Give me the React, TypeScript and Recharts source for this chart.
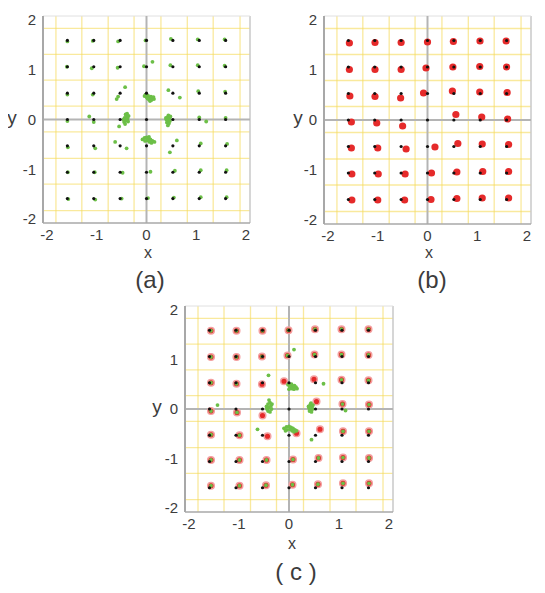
import React from 'react';
import { ScatterChart, Scatter, XAxis, YAxis, ReferenceLine } from 'recharts';

// ideal constellation levels (black dots sit on every pair)
const levels = [-1.59, -1.06, -0.53, 0, 0.53, 1.06, 1.59];
// yellow grid, half way between the levels
const gridX = [-1.82, -1.3, -0.77, -0.25, 0.29, 0.82, 1.34, 1.88];
const gridY = [-1.83, -1.3, -0.78, -0.25, 0.27, 0.79, 1.31, 1.83];
const xTicks = [-2, -1, 0, 1, 2];
const yTicks = [-2, -1, 0, 1, 2];
const DOMAIN: [number, number] = [-2.08, 2.08];

type Pt = [number, number];

// (a) received points, green
const greenA: Pt[] = [
  [-1.59, 1.57], [-1.08, 1.58], [-0.57, 1.57], [-0.02, 1.59], [0.49, 1.62], [1.03, 1.61], [1.57, 1.61],
  [-1.6, 1.06], [-1.1, 1.03], [-0.58, 1.04], [-0.05, 1.07], [0.48, 1.09], [1.03, 1.09], [1.57, 1.08],
  [-1.59, 0.5], [-1.08, 0.5], [1.04, 0.57], [1.58, 0.56],
  [-1.59, -0.03], [-1.06, -0.05], [1.06, 0.04], [1.59, 0.03],
  [-1.58, -0.56], [-1.03, -0.58], [1.09, -0.48], [1.62, -0.49],
  [-1.58, -1.06], [-1.04, -1.06], [-0.48, -1.07], [0.08, -1.05], [0.57, -1.03], [1.09, -1.02], [1.61, -1.02],
  [-1.57, -1.6], [-1.03, -1.61], [-0.5, -1.59], [0.03, -1.58], [0.55, -1.57], [1.09, -1.56], [1.61, -1.56],
  // scattered
  [-0.43, 0.65], [-0.57, 0.46], [-0.6, 0.41], [0.44, 0.59], [0.67, 0.44], [-1.15, 0.06], [-0.55, -0.14],
  [-0.63, -0.45], [-0.4, -0.58], [0.61, -0.42], [0.47, -0.66], [0.12, 1.16], [1.2, -0.04],
  // blob near (0, 0.53)
  [-0.04, 0.47], [0.0, 0.45], [0.03, 0.48], [0.06, 0.44], [0.09, 0.46], [0.12, 0.43], [0.15, 0.41],
  [0.05, 0.4], [0.1, 0.39], [0.02, 0.42], [0.14, 0.45], [0.07, 0.37], [-0.02, 0.5],
  // blob near (-0.53, 0)
  [-0.42, 0.1], [-0.4, 0.06], [-0.44, 0.03], [-0.38, 0.02], [-0.41, -0.02], [-0.45, -0.05],
  [-0.37, -0.04], [-0.43, -0.09], [-0.39, 0.12], [-0.36, 0.07], [-0.46, 0.0],
  // blob near (0.53, 0)
  [0.44, 0.08], [0.42, 0.04], [0.46, 0.03], [0.4, 0.0], [0.44, -0.02], [0.48, 0.06],
  [0.41, -0.06], [0.45, -0.08], [0.43, -0.12], [0.47, -0.03], [0.39, 0.03],
  // blob near (0, -0.53)
  [-0.08, -0.4], [-0.04, -0.37], [0.0, -0.36], [0.04, -0.38], [0.08, -0.4], [0.12, -0.43],
  [0.16, -0.45], [0.02, -0.42], [-0.03, -0.43], [0.06, -0.45], [0.1, -0.47], [0.05, -0.35],
];

// (b) received points, red
const redB: Pt[] = [
  [-1.57, 1.54], [-1.055, 1.55], [-0.53, 1.55], [0.0, 1.56], [0.52, 1.57], [1.055, 1.58], [1.58, 1.58],
  [-1.57, 1.01], [-1.055, 1.01], [-0.53, 1.01], [-0.03, 1.04], [0.51, 1.06], [1.05, 1.07], [1.59, 1.06],
  [-1.56, 0.48], [-1.055, 0.47], [-0.54, 0.44], [-0.08, 0.54], [0.5, 0.58], [1.05, 0.56], [1.6, 0.55],
  [-1.53, -0.04], [-1.02, -0.06], [-0.5, -0.12], [0.57, 0.11], [1.09, 0.06], [1.61, 0.02],
  [-1.53, -0.56], [-1.0, -0.56], [-0.43, -0.58], [0.15, -0.54], [0.61, -0.47], [1.1, -0.48], [1.63, -0.49],
  [-1.52, -1.08], [-0.99, -1.08], [-0.45, -1.08], [0.08, -1.06], [0.59, -1.04], [1.11, -1.03], [1.63, -1.03],
  [-1.52, -1.6], [-1.0, -1.6], [-0.46, -1.6], [0.07, -1.59], [0.59, -1.57], [1.1, -1.56], [1.63, -1.56],
];

// (c) red points
const redC: Pt[] = [
  [-1.56, 1.58], [-1.05, 1.58], [-0.53, 1.58], [-0.01, 1.59], [0.52, 1.61], [1.05, 1.61], [1.59, 1.61],
  [-1.56, 1.05], [-1.05, 1.05], [-0.54, 1.06], [-0.03, 1.08], [0.51, 1.1], [1.05, 1.1], [1.59, 1.09],
  [-1.56, 0.53], [-1.05, 0.51], [-0.54, 0.5], [-0.1, 0.56], [0.5, 0.6], [1.05, 0.59], [1.59, 0.58],
  [-1.56, -0.04], [-1.04, -0.07], [-0.53, -0.13], [0.55, 0.15], [1.07, 0.1], [1.6, 0.09],
  [-1.56, -0.52], [-0.99, -0.53], [-0.43, -0.55], [0.15, -0.49], [0.62, -0.41], [1.08, -0.45], [1.6, -0.45],
  [-1.56, -1.03], [-0.99, -1.03], [-0.45, -1.03], [0.08, -1.02], [0.59, -0.99], [1.08, -0.98], [1.6, -0.99],
  [-1.56, -1.55], [-0.99, -1.55], [-0.46, -1.54], [0.07, -1.53], [0.58, -1.52], [1.08, -1.5], [1.6, -1.5],
];

// (c) green points
const greenC: Pt[] = [
  [-1.56, 1.58], [-1.05, 1.58], [-0.53, 1.58], [-0.01, 1.59], [0.52, 1.61], [1.05, 1.61], [1.59, 1.61],
  [-1.56, 1.05], [-1.05, 1.05], [-0.54, 1.06], [-0.03, 1.08], [0.51, 1.1], [1.05, 1.1], [1.59, 1.09],
  [-1.56, 0.53], [-1.05, 0.51], [1.05, 0.59], [1.59, 0.58],
  [-1.56, -0.04], [-1.04, -0.07], [1.07, 0.1], [1.6, 0.09],
  [-1.56, -0.52], [-0.99, -0.53], [1.08, -0.45], [1.6, -0.45],
  [-1.56, -1.03], [-0.99, -1.03], [-0.45, -1.03], [0.08, -1.02], [0.59, -0.99], [1.08, -0.98], [1.6, -0.99],
  [-1.56, -1.55], [-0.99, -1.55], [-0.46, -1.54], [0.07, -1.53], [0.58, -1.52], [1.08, -1.5], [1.6, -1.5],
  // scattered
  [-0.41, 0.68], [0.69, 0.51], [0.1, 1.2], [1.13, -0.03], [-1.43, 0.08], [-0.63, -0.41], [0.45, -0.62],
  // blob near (0, 0.53)
  [-0.02, 0.49], [0.02, 0.46], [0.05, 0.5], [0.08, 0.45], [0.11, 0.47], [0.14, 0.44], [0.16, 0.41],
  [0.06, 0.41], [0.1, 0.4], [0.03, 0.43], [0.0, 0.4],
  // blob near (-0.53, 0)
  [-0.4, 0.18], [-0.38, 0.13], [-0.42, 0.1], [-0.36, 0.07], [-0.4, 0.03], [-0.44, 0.0],
  [-0.35, 0.0], [-0.42, -0.04], [-0.38, -0.06], [-0.45, 0.05], [-0.34, 0.1],
  // blob near (0.53, 0)
  [0.44, 0.12], [0.42, 0.07], [0.46, 0.05], [0.4, 0.02], [0.44, -0.01], [0.48, 0.08],
  [0.41, -0.04], [0.45, -0.06], [0.43, 0.1], [0.47, 0.0], [0.39, 0.05],
  // blob near (0, -0.53)
  [-0.1, -0.39], [-0.05, -0.36], [0.0, -0.35], [0.04, -0.37], [0.08, -0.39], [0.12, -0.42],
  [0.15, -0.44], [0.02, -0.41], [-0.04, -0.42], [0.06, -0.44], [0.1, -0.46], [-0.07, -0.44],
];

const black = levels.flatMap((y) => levels.map((x) => ({ x, y })));
const toXY = (pts: Pt[]) => pts.map(([x, y]) => ({ x, y }));

const FONT = '"Liberation Sans", Arial, sans-serif';
const TEXT = '#3c3c3c';
const YELLOW = '#f5da5c';
const GREEN = '#6cbf47';
const RED = '#e52a2a';

function dot(r: number, fill: string, stroke?: string) {
  return (p: any) => (
    <circle cx={p.cx} cy={p.cy} r={r} fill={fill} stroke={stroke ?? 'none'} strokeWidth={stroke ? 1.5 : 0} />
  );
}

interface PanelProps {
  left: number;
  top: number;
  w: number;
  h: number;
  green?: Pt[];
  red?: Pt[];
  redHalo?: boolean;
}

function Panel({ left, top, w, h, green, red, redHalo }: PanelProps) {
  const ML = 43;
  const MT = 16;
  return (
    <div style={{ position: 'absolute', left: left - ML, top: top - MT }}>
      <ScatterChart
        width={ML + w + 10}
        height={MT + h + 30}
        margin={{ top: MT, right: 10, left: 0, bottom: 0 }}
      >
        <XAxis
          type="number"
          dataKey="x"
          domain={DOMAIN}
          ticks={xTicks}
          allowDataOverflow
          height={30}
          tickLine={false}
          tickSize={0}
          tickMargin={6}
          axisLine={{ stroke: '#a8a8a8', strokeWidth: 1.5 }}
          tick={{ fill: TEXT, fontSize: 15, fontFamily: FONT }}
        />
        <YAxis
          type="number"
          dataKey="y"
          domain={DOMAIN}
          ticks={yTicks}
          allowDataOverflow
          width={ML}
          tickLine={false}
          tickSize={0}
          tickMargin={7}
          axisLine={{ stroke: '#a8a8a8', strokeWidth: 2 }}
          tick={{ fill: TEXT, fontSize: 15, fontFamily: FONT }}
        />
        {gridX.map((v) => (
          <ReferenceLine key={'gx' + v} x={v} stroke={YELLOW} strokeOpacity={0.6} strokeWidth={1.3} />
        ))}
        {gridY.map((v) => (
          <ReferenceLine key={'gy' + v} y={v} stroke={YELLOW} strokeOpacity={0.6} strokeWidth={1.3} />
        ))}
        <ReferenceLine x={DOMAIN[1]} stroke="#c8c8c8" strokeWidth={1.5} />
        <ReferenceLine y={DOMAIN[1]} stroke="#e0e0e0" strokeWidth={1} />
        <ReferenceLine x={0} stroke="#b4b4b4" strokeWidth={2} />
        <ReferenceLine y={0} stroke="#b4b4b4" strokeWidth={2} />
        {red && (
          <Scatter
            data={toXY(red)}
            isAnimationActive={false}
            shape={dot(redHalo ? 3.3 : 3.6, RED, redHalo ? '#f3a0a0' : undefined)}
          />
        )}
        {green && (
          <Scatter data={toXY(green)} isAnimationActive={false} shape={dot(1.9, GREEN)} />
        )}
        <Scatter data={black} isAnimationActive={false} shape={dot(1.6, '#111')} />
      </ScatterChart>
    </div>
  );
}

function Label({ x, y, size, children }: { x: number; y: number; size: number; children: React.ReactNode }) {
  return (
    <div
      style={{
        position: 'absolute',
        left: x,
        top: y,
        transform: 'translate(-50%, -50%)',
        fontFamily: FONT,
        fontSize: size,
        color: TEXT,
        lineHeight: 1,
        whiteSpace: 'pre',
      }}
    >
      {children}
    </div>
  );
}

export default function App() {
  return (
    <div style={{ position: 'relative', width: 545, height: 593, margin: -8, background: '#fff', overflow: 'hidden' }}>
      <Panel left={43} top={16} w={207} h={207} green={greenA} />
      <Panel left={324} top={16} w={207} h={208} red={redB} />
      <Panel left={185} top={306} w={208} h={206} red={redC} green={greenC} redHalo />

      <Label x={148} y={253} size={16}>x</Label>
      <Label x={429} y={253} size={16}>x</Label>
      <Label x={292} y={544} size={16}>x</Label>

      <Label x={12} y={117} size={19}>y</Label>
      <Label x={298} y={117} size={19}>y</Label>
      <Label x={157} y={406} size={19}>y</Label>

      <Label x={150} y={280} size={24}>(a)</Label>
      <Label x={432} y={280} size={24}>(b)</Label>
      <Label x={296} y={572} size={24}>( c )</Label>
    </div>
  );
}
